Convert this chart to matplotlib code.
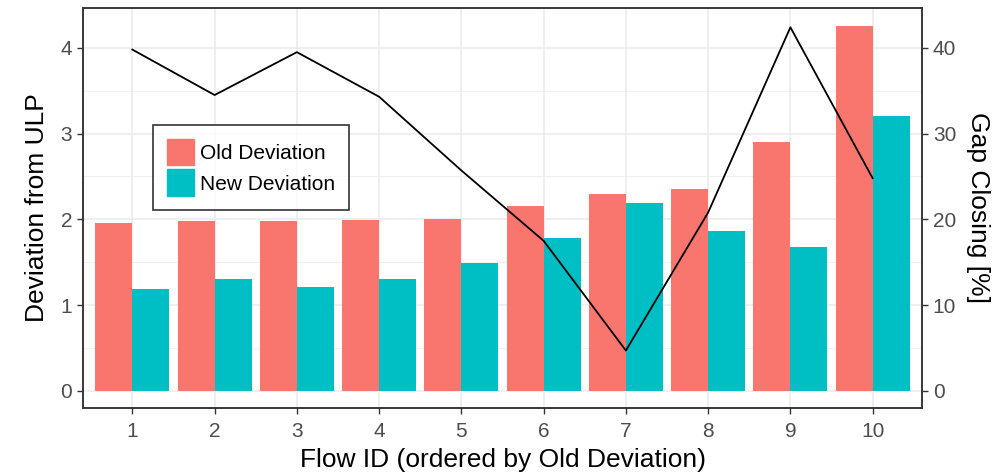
import matplotlib
matplotlib.use('Agg')
import matplotlib.pyplot as plt
from matplotlib.patches import Patch
import numpy as np

plt.rcParams['font.family'] = ['Liberation Sans', 'DejaVu Sans']

# flows 1..10, sorted by old deviation
flow_ids = [1, 2, 3, 4, 5, 6, 7, 8, 9, 10]
old_dev = [1.96, 1.98, 1.98, 1.99, 2.00, 2.15, 2.29, 2.35, 2.90, 4.26]
new_dev = [1.19, 1.30, 1.21, 1.31, 1.49, 1.78, 2.19, 1.86, 1.68, 3.21]
gap_closing = [39.8, 34.5, 39.5, 34.3, 25.7, 17.5, 4.7, 20.8, 42.4, 24.8]

old_col = '#F8766D'
new_col = '#00BFC4'
grid_col = '#EBEBEB'
frame_col = '#333333'
tick_col = '#4D4D4D'

fig = plt.figure(figsize=(9.99, 4.75), dpi=100)
ax = fig.add_axes([83 / 999, 67 / 475, 839 / 999, 400 / 475])

x = np.array(flow_ids)
w = 0.45
ax.bar(x - w / 2, old_dev, width=w, color=old_col, zorder=2)
ax.bar(x + w / 2, new_dev, width=w, color=new_col, zorder=2)

ax.set_xlim(0.4, 10.6)
ax.set_ylim(-0.2, 4.465)
ax.set_xticks(flow_ids)
ax.set_yticks([0, 1, 2, 3, 4])
ax.set_yticks([0.5, 1.5, 2.5, 3.5], minor=True)
ax.set_axisbelow(True)
ax.grid(True, which='major', color=grid_col, linewidth=1.1)
ax.grid(True, which='minor', axis='y', color=grid_col, linewidth=0.55)
ax.tick_params(which='minor', length=0)
ax.tick_params(which='major', length=4.3, width=1, color=frame_col,
               labelsize=15, labelcolor=tick_col, pad=3.5)
ax.tick_params(axis='x', pad=6)
for s in ax.spines.values():
    s.set_color(frame_col)
    s.set_linewidth(1.1)

ax.set_xlabel('Flow ID (ordered by Old Deviation)', fontsize=19, labelpad=5)
ax.set_ylabel('Deviation from ULP', fontsize=19, labelpad=8)

# gap closing on a secondary axis, same scale x10
ax2 = ax.twinx()
ax2.plot(x, gap_closing, color='black', linewidth=1.3, zorder=3)
ax2.set_ylim(-2.0, 44.65)
ax2.set_yticks([0, 10, 20, 30, 40])
ax2.tick_params(length=4.3, width=1, color=frame_col,
                labelsize=15, labelcolor=tick_col, pad=3.5)
for s in ax2.spines.values():
    s.set_color(frame_col)
    s.set_linewidth(1.1)
ax2.set_ylabel('Gap Closing [%]', fontsize=19, rotation=270, labelpad=24)

handles = [Patch(color=old_col), Patch(color=new_col)]
leg = fig.legend(handles, ['Old Deviation', 'New Deviation'],
                 loc='upper left', bbox_to_anchor=(153 / 999, 1 - 125 / 475),
                 fontsize=15, frameon=True, fancybox=False,
                 handlelength=1.3, handleheight=1.6, labelspacing=0.2,
                 handletextpad=0.3, borderpad=0.65, borderaxespad=0)
leg.get_frame().set_edgecolor('black')
leg.get_frame().set_linewidth(1.2)

plt.savefig('out.png', dpi=100)
